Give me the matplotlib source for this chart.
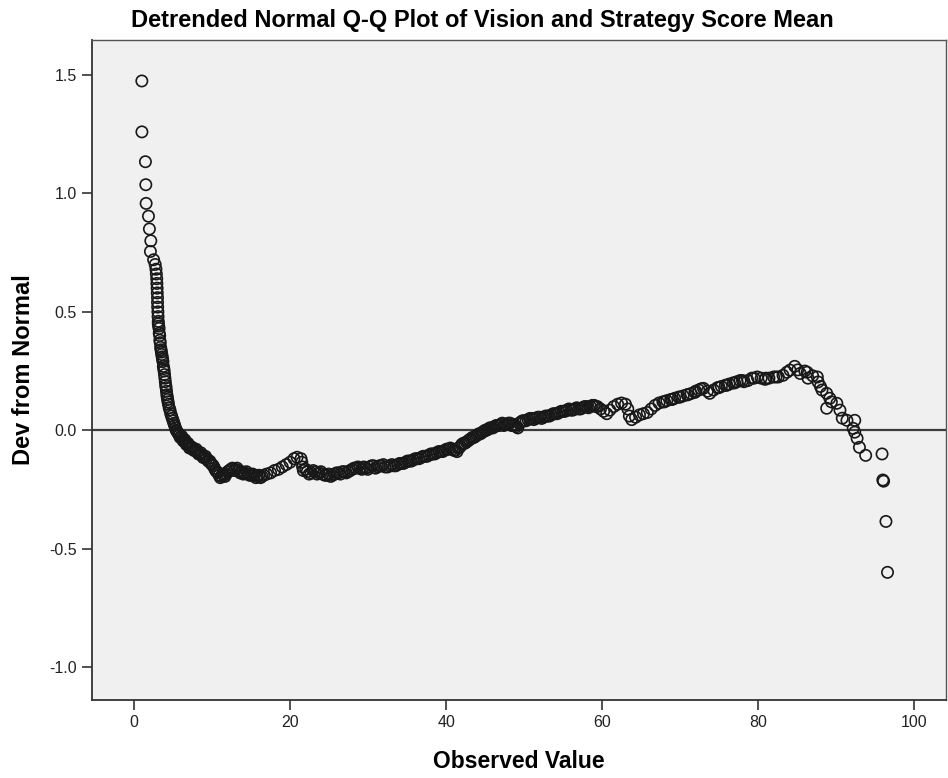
"""
Detrended normal Q-Q plot for the Vision and Strategy score mean.
"""

import matplotlib

matplotlib.use("Agg")
import matplotlib.pyplot as plt
import numpy as np

plt.rcParams["font.family"] = ["Liberation Sans", "DejaVu Sans"]

TITLE = "Detrended Normal Q-Q Plot of Vision and Strategy Score Mean"
X_LABEL = "Observed Value"
Y_LABEL = "Dev from Normal"

obs_low = [0.99, 1.0, 1.45, 1.5, 1.54, 1.84, 1.96, 2.14, 2.09, 2.5, 2.7, 2.8,
           2.85, 2.9, 2.92, 2.95, 2.97, 3.0, 3.0, 3.02, 3.05, 3.07, 3.1, 3.1,
           3.15, 3.2, 3.22, 3.28, 3.3, 3.35, 3.4, 3.45, 3.5, 3.55, 3.6, 3.65,
           3.7, 3.75, 3.8, 3.85, 3.9, 3.95, 4.0, 4.05, 4.1, 4.15, 4.2, 4.25,
           4.3, 4.35, 4.4, 4.5, 4.6, 4.7, 4.8, 4.9, 5.0, 5.1, 5.2, 5.3, 5.4, 5.5]
dev_low = [1.475, 1.26, 1.134, 1.037, 0.958, 0.904, 0.85, 0.80, 0.755, 0.72, 0.70, 0.68,
           0.66, 0.64, 0.62, 0.60, 0.58, 0.56, 0.54, 0.52, 0.50, 0.48, 0.46, 0.45,
           0.44, 0.43, 0.41, 0.40, 0.38, 0.37, 0.35, 0.34, 0.33, 0.32, 0.31, 0.30,
           0.29, 0.27, 0.26, 0.25, 0.235, 0.22, 0.205, 0.19, 0.18, 0.165, 0.15, 0.14,
           0.13, 0.12, 0.11, 0.095, 0.085, 0.07, 0.06, 0.05, 0.04, 0.03, 0.02, 0.01, 0.0, -0.005]

obs_mid = [5.6, 5.8, 6.0, 6.2, 6.4, 6.6, 6.8, 7.0, 7.2, 7.5, 7.8, 8.1, 8.4, 8.7, 9.0,
           9.3, 9.7, 10.0, 10.3, 10.6, 10.9, 11.2, 11.5, 11.8, 12.2, 12.6, 13.0, 13.4,
           13.8, 14.2, 14.6, 15.0, 15.4, 15.8, 16.2, 16.6, 17.0, 17.5, 18.0, 18.5, 19.0,
           19.5, 20.0, 20.5, 20.9, 21.4, 21.5, 21.6, 21.7, 22.2, 22.7, 23.2, 23.7, 24.2,
           24.7, 25.2, 25.7, 26.2, 26.7, 27.2, 27.7, 28.2, 28.7, 29.2, 29.7, 30.2, 30.7,
           31.2, 31.7, 32.2, 32.8, 33.3, 33.8, 34.3, 34.8, 35.3, 35.8, 36.3, 36.8, 37.3,
           37.8, 38.3, 38.8, 39.3, 39.8, 40.3, 40.8, 41.2, 41.4, 41.8]
dev_mid = [-0.01, -0.02, -0.03, -0.035, -0.045, -0.05, -0.06, -0.065, -0.07, -0.075, -0.085,
           -0.09, -0.1, -0.105, -0.115, -0.12, -0.13, -0.145, -0.16, -0.175, -0.19, -0.195,
           -0.19, -0.185, -0.17, -0.16, -0.165, -0.17, -0.175, -0.18, -0.185, -0.19, -0.19,
           -0.195, -0.2, -0.19, -0.185, -0.18, -0.17, -0.165, -0.155, -0.145, -0.135, -0.12,
           -0.114, -0.12, -0.135, -0.155, -0.17, -0.175, -0.18, -0.175, -0.18, -0.185, -0.19,
           -0.195, -0.185, -0.18, -0.175, -0.18, -0.17, -0.16, -0.155, -0.165, -0.16, -0.155,
           -0.15, -0.155, -0.15, -0.155, -0.15, -0.15, -0.145, -0.14, -0.135, -0.13, -0.125,
           -0.12, -0.115, -0.11, -0.105, -0.1, -0.095, -0.09, -0.085, -0.08, -0.08, -0.085,
           -0.09, -0.07]

obs_high = [42.2, 42.6, 43.0, 43.4, 43.8, 44.2, 44.6, 45.0, 45.4, 45.8, 46.2, 46.6, 47.0,
            47.4, 47.8, 48.2, 48.6, 49.0, 49.2, 49.6, 50.0, 50.5, 51.0, 51.5, 52.0, 52.5,
            53.0, 53.5, 54.0, 54.5, 55.0, 55.5, 56.0, 56.5, 57.0, 57.5, 58.0, 58.5, 59.0,
            59.4, 59.8, 60.2, 60.6, 61.0, 61.5, 62.0, 62.5, 63.0, 63.3, 63.5, 63.8, 64.3,
            64.8, 65.3, 65.8, 66.3, 66.8, 67.3, 67.8, 68.3, 68.8, 69.3, 69.8, 70.4, 70.9,
            71.4, 71.9, 72.4, 73.0, 73.5, 73.8, 74.3, 74.8, 75.3, 75.8, 76.3, 76.8, 77.3,
            77.7, 78.2, 78.7, 79.2, 79.9, 80.4, 80.9, 81.4, 82.0, 82.6, 83.2, 83.7, 84.1,
            84.7, 85.1, 85.4, 86.0, 86.3, 86.4, 87.0, 87.6, 87.7, 88.0, 88.2, 88.8, 89.2,
            88.8, 89.4, 90.1, 90.5, 90.8, 91.4, 92.4, 92.2, 92.4, 92.7, 93.0, 93.8, 95.9,
            96.0, 96.1, 96.4, 96.6]
dev_high = [-0.055, -0.05, -0.04, -0.03, -0.025, -0.015, -0.01, 0.0, 0.005, 0.01, 0.015,
            0.02, 0.025, 0.02, 0.025, 0.03, 0.025, 0.015, 0.01, 0.035, 0.04, 0.045, 0.05,
            0.05, 0.055, 0.055, 0.06, 0.065, 0.07, 0.075, 0.08, 0.085, 0.085, 0.09, 0.09,
            0.095, 0.1, 0.1, 0.105, 0.1, 0.09, 0.08, 0.07, 0.085, 0.1, 0.11, 0.115, 0.11,
            0.09, 0.06, 0.045, 0.055, 0.065, 0.07, 0.075, 0.09, 0.105, 0.115, 0.12, 0.125,
            0.13, 0.135, 0.14, 0.145, 0.15, 0.155, 0.16, 0.17, 0.177, 0.165, 0.156, 0.17,
            0.18, 0.185, 0.19, 0.195, 0.2, 0.205, 0.21, 0.205, 0.21, 0.22, 0.225, 0.22,
            0.215, 0.22, 0.225, 0.225, 0.232, 0.245, 0.254, 0.27, 0.255, 0.24, 0.25, 0.245,
            0.22, 0.23, 0.225, 0.204, 0.185, 0.17, 0.156, 0.135, 0.093, 0.12, 0.114, 0.085,
            0.051, 0.042, 0.042, 0.008, -0.008, -0.034, -0.072, -0.106, -0.1, -0.21, -0.215,
            -0.385, -0.6]

# second row of cases inside the thick, overlapping stretches of the band
obs_band = [5.7, 5.9, 6.1, 6.3, 6.5, 6.7, 6.9, 7.1, 7.35, 7.65, 7.95, 8.25, 8.55, 8.85,
            9.15, 9.5, 9.85, 10.15, 10.45, 10.75, 11.05, 11.35, 11.65, 12.0, 12.4, 12.8,
            13.2, 13.6, 14.0, 14.4, 14.8, 15.2, 15.6, 16.0, 16.4,
            22.0, 22.45, 22.95, 23.45, 23.95, 24.45, 24.95, 25.45, 25.95, 26.45, 26.95,
            27.45, 27.95, 28.45, 28.95, 29.45, 29.95, 30.45, 30.95, 31.45, 31.95, 32.5,
            33.05, 33.55, 34.05, 34.55, 35.05, 35.55, 36.05, 36.55, 37.05, 37.55, 38.05,
            38.55, 39.05, 39.55, 40.05, 40.55, 41.0, 41.6, 42.0, 42.4, 42.8, 43.2, 43.6,
            44.0, 44.4, 44.8, 45.2, 45.6, 46.0, 46.4, 46.8, 47.2, 47.6, 48.0, 48.4, 48.8,
            49.4, 49.8, 50.25, 50.75, 51.25, 51.75, 52.25, 52.75, 53.25, 53.75, 54.25,
            54.75, 55.25, 55.75, 56.25, 56.75, 57.25, 57.75, 58.25, 58.75, 59.2,
            68.0, 69.0, 70.0, 71.0, 72.0, 72.7, 75.0, 76.0, 77.0, 78.0, 79.5, 81.0, 82.3]
dev_band = [-0.015, -0.03, -0.025, -0.045, -0.04, -0.06, -0.055, -0.075, -0.07, -0.085,
            -0.08, -0.1, -0.095, -0.115, -0.11, -0.13, -0.14, -0.15, -0.17, -0.18, -0.2,
            -0.185, -0.195, -0.175, -0.165, -0.17, -0.16, -0.18, -0.185, -0.175, -0.19,
            -0.185, -0.2, -0.19, -0.195,
            -0.165, -0.185, -0.17, -0.185, -0.175, -0.19, -0.185, -0.19, -0.18, -0.185,
            -0.175, -0.175, -0.165, -0.16, -0.16, -0.155, -0.165, -0.15, -0.16, -0.15,
            -0.145, -0.155, -0.145, -0.15, -0.14, -0.14, -0.13, -0.13, -0.12, -0.12, -0.11,
            -0.11, -0.1, -0.1, -0.09, -0.09, -0.08, -0.075, -0.085, -0.075, -0.06, -0.055,
            -0.045, -0.035, -0.03, -0.02, -0.015, -0.005, 0.0, 0.01, 0.01, 0.02, 0.02,
            0.03, 0.025, 0.03, 0.02, 0.02, 0.03, 0.04, 0.04, 0.05, 0.045, 0.055, 0.05,
            0.06, 0.06, 0.07, 0.07, 0.08, 0.08, 0.09, 0.085, 0.095, 0.09, 0.1, 0.095,
            0.105, 0.1,
            0.12, 0.13, 0.14, 0.15, 0.165, 0.175, 0.18, 0.19, 0.2, 0.21, 0.22, 0.22, 0.225]

X_TICKS = [0, 20, 40, 60, 80, 100]
Y_TICKS = [-1.0, -0.5, 0.0, 0.5, 1.0, 1.5]

observed = np.array(obs_low + obs_mid + obs_high + obs_band)
deviation = np.array(dev_low + dev_mid + dev_high + dev_band)

fig = plt.figure(figsize=(9.48, 7.78), dpi=100)
ax = fig.add_axes([92 / 948, 78 / 778, 854 / 948, 660 / 778])
ax.set_facecolor("#f0f0f0")

ax.axhline(0, color="#3c3c3c", linewidth=1.6, zorder=1)
ax.scatter(observed, deviation, s=66, facecolors="none", edgecolors="#181818",
           linewidths=1.2, zorder=2)

ax.set_xlim(-5.4, 104.1)
ax.set_ylim(-1.139, 1.648)
ax.set_xticks(X_TICKS)
ax.set_xticklabels([str(v) for v in X_TICKS])
ax.set_yticks(Y_TICKS)
ax.set_yticklabels([f"{v:.1f}" for v in Y_TICKS])
ax.tick_params(direction="out", length=7, width=1.2, color="#333333",
               labelsize=11.5, labelcolor="#222222", pad=4)

for side in ("left", "bottom"):
    ax.spines[side].set_color("#333333")
    ax.spines[side].set_linewidth(1.3)
for side in ("top", "right"):
    ax.spines[side].set_color("#555555")
    ax.spines[side].set_linewidth(1.0)

fig.text(482 / 948, 1 - 20 / 778, TITLE, fontsize=17, fontweight="bold",
         ha="center", va="center")
ax.set_xlabel(X_LABEL, fontsize=16.5, fontweight="bold", labelpad=14)
ax.set_ylabel(Y_LABEL, fontsize=17, fontweight="bold", labelpad=10)

fig.savefig("out.png", dpi=100)
